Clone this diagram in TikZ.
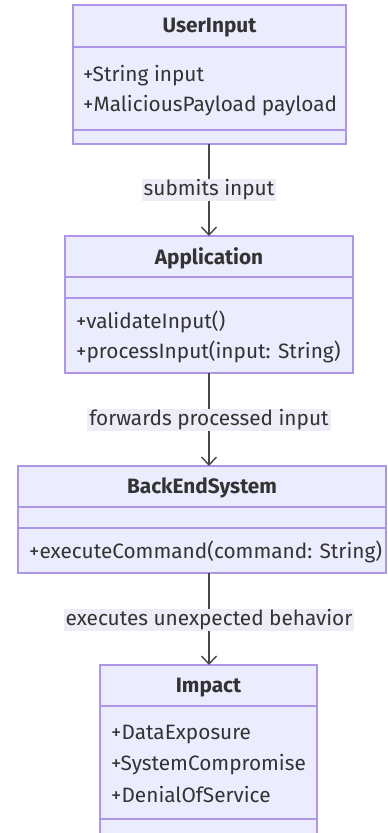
\documentclass[tikz,border=0pt]{standalone}
\usepackage{fontspec}
\setmainfont{Fira Sans}
\usetikzlibrary{arrows.meta}
\definecolor{boxfill}{HTML}{ECECFF}
\definecolor{boxline}{HTML}{AF95E6}
\definecolor{ink}{HTML}{333333}
\definecolor{lblbg}{HTML}{EDEDF7}
\tikzset{
  classbox/.style={draw=boxline, fill=boxfill, line width=1.3pt},
  divider/.style={draw=boxline, line width=1.3pt},
  title/.style={font=\fontsize{20.8}{24}\selectfont\bfseries, text=ink, anchor=center, inner sep=0pt},
  member/.style={font=\fontsize{20.8}{24}\selectfont, text=ink, anchor=west, inner sep=0pt},
  edgelbl/.style={font=\fontsize{20.8}{24}\selectfont, text=ink, fill=lblbg, inner xsep=2pt, inner ysep=1pt},
  link/.style={draw=ink!90, line width=1.2pt, -{Straight Barb[length=8pt,width=15pt,line width=1.4pt]}}
}
\begin{document}
\begin{tikzpicture}[x=1pt,y=-1pt]
\useasboundingbox (0,0) rectangle (388,833);

% UserInput
\path[classbox] (73,5) rectangle (346,144);
\draw[divider] (73,47) -- (346,47);
\draw[divider] (73,130) -- (346,130);
\node[title] (userT) at (209.5,28) {UserInput};
\node[member] (u1) at (83,76) {+String input};
\node[member] (u2) at (83,106) {+MaliciousPayload payload};
\coordinate (userB) at (209,144);

% Application
\path[classbox] (65,236) rectangle (353,373);
\draw[divider] (65,277) -- (353,277);
\draw[divider] (65,298) -- (353,298);
\node[title] (appT) at (209,258) {Application};
\node[member] (a1) at (76,322) {+validateInput()};
\node[member] (a2) at (76,352) {+processInput(input: String)};
\coordinate (appN) at (209,236);
\coordinate (appB) at (209,373);

% BackEndSystem
\path[classbox] (18,466) rectangle (386,573);
\draw[divider] (18,507) -- (386,507);
\draw[divider] (18,528) -- (386,528);
\node[title] (beT) at (202,488) {BackEndSystem};
\node[member] (b1) at (29,552) {+executeCommand(command: String)};
\coordinate (beN) at (209,466);
\coordinate (beB) at (209,573);

% Impact
\path[classbox] (100,665) rectangle (317,845);
\draw[divider] (100,706) -- (317,706);
\draw[divider] (100,819) -- (317,819);
\node[title] (impT) at (208.5,688) {Impact};
\node[member] (i1) at (111,735) {+DataExposure};
\node[member] (i2) at (111,765) {+SystemCompromise};
\node[member] (i3) at (111,795) {+DenialOfService};
\coordinate (impN) at (209,665);

% relations
\draw[link] (userB) -- (appN);
\draw[link] (appB) -- (beN);
\draw[link] (beB) -- (impN);
\node[edgelbl] (l1) at (209,190) {submits input};
\node[edgelbl] (l2) at (209,420) {forwards processed input};
\node[edgelbl] (l3) at (209,620) {executes unexpected behavior};
\end{tikzpicture}
\end{document}
